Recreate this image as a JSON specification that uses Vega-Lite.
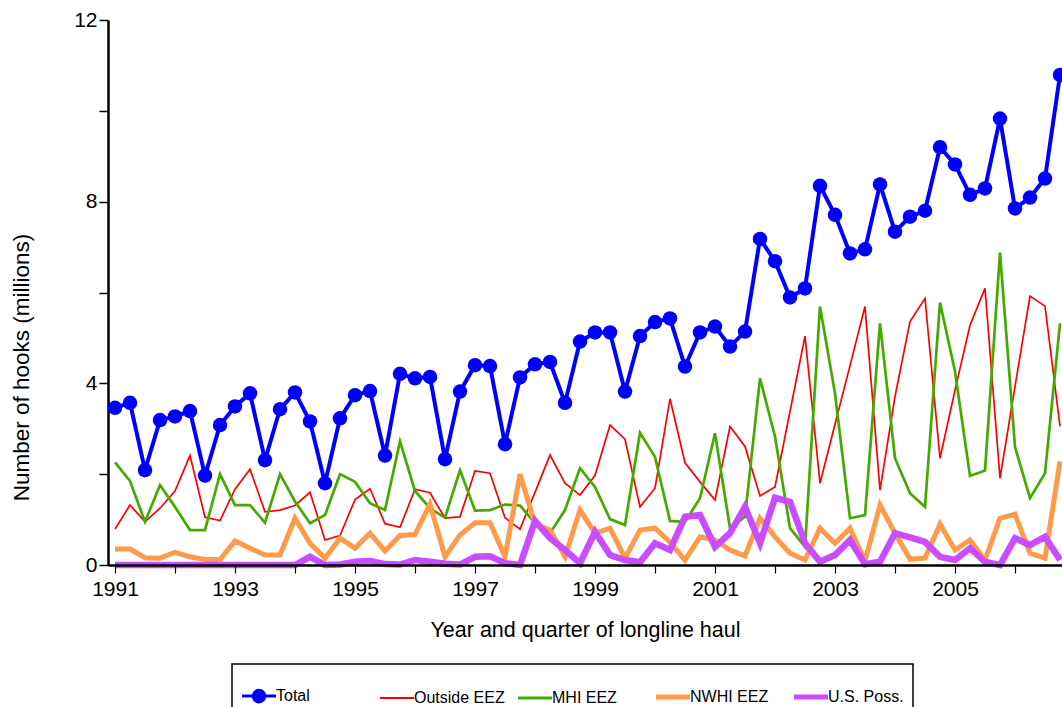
{
  "$schema": "https://vega.github.io/schema/vega-lite/v6.json",
  "width": 954,
  "height": 545,
  "autosize": "none",
  "padding": {"left": 108, "top": 20, "right": 0, "bottom": 142},
  "background": "white",
  "config": {
    "font": "Liberation Sans",
    "view": {"stroke": null},
    "axis": {"grid": false, "domainColor": "black", "tickColor": "black", "labelColor": "black", "titleColor": "black", "titleFontWeight": "normal", "labelFont": "Liberation Sans", "titleFont": "Liberation Sans"}
  },
  "datasets": {
    "total": [
      {"t":1991,"v":3.46},{"t":1991.25,"v":3.57},{"t":1991.5,"v":2.09},{"t":1991.75,"v":3.19},
      {"t":1992,"v":3.27},{"t":1992.25,"v":3.39},{"t":1992.5,"v":1.97},{"t":1992.75,"v":3.08},
      {"t":1993,"v":3.49},{"t":1993.25,"v":3.78},{"t":1993.5,"v":2.31},{"t":1993.75,"v":3.43},
      {"t":1994,"v":3.80},{"t":1994.25,"v":3.16},{"t":1994.5,"v":1.80},{"t":1994.75,"v":3.23},
      {"t":1995,"v":3.74},{"t":1995.25,"v":3.83},{"t":1995.5,"v":2.41},{"t":1995.75,"v":4.21},
      {"t":1996,"v":4.11},{"t":1996.25,"v":4.14},{"t":1996.5,"v":2.33},{"t":1996.75,"v":3.82},
      {"t":1997,"v":4.40},{"t":1997.25,"v":4.38},{"t":1997.5,"v":2.66},{"t":1997.75,"v":4.13},
      {"t":1998,"v":4.42},{"t":1998.25,"v":4.47},{"t":1998.5,"v":3.57},{"t":1998.75,"v":4.92},
      {"t":1999,"v":5.12},{"t":1999.25,"v":5.12},{"t":1999.5,"v":3.82},{"t":1999.75,"v":5.04},
      {"t":2000,"v":5.35},{"t":2000.25,"v":5.43},{"t":2000.5,"v":4.37},{"t":2000.75,"v":5.12},
      {"t":2001,"v":5.25},{"t":2001.25,"v":4.81},{"t":2001.5,"v":5.14},{"t":2001.75,"v":7.18},
      {"t":2002,"v":6.69},{"t":2002.25,"v":5.89},{"t":2002.5,"v":6.09},{"t":2002.75,"v":8.35},
      {"t":2003,"v":7.71},{"t":2003.25,"v":6.86},{"t":2003.5,"v":6.95},{"t":2003.75,"v":8.38},
      {"t":2004,"v":7.34},{"t":2004.25,"v":7.67},{"t":2004.5,"v":7.80},{"t":2004.75,"v":9.20},
      {"t":2005,"v":8.82},{"t":2005.25,"v":8.15},{"t":2005.5,"v":8.29},{"t":2005.75,"v":9.83},
      {"t":2006,"v":7.85},{"t":2006.25,"v":8.09},{"t":2006.5,"v":8.51},{"t":2006.75,"v":10.79}
    ],
    "outside": [
      {"t":1991,"v":0.79},{"t":1991.25,"v":1.32},{"t":1991.5,"v":0.95},{"t":1991.75,"v":1.25},
      {"t":1992,"v":1.63},{"t":1992.25,"v":2.41},{"t":1992.5,"v":1.05},{"t":1992.75,"v":0.98},
      {"t":1993,"v":1.67},{"t":1993.25,"v":2.11},{"t":1993.5,"v":1.17},{"t":1993.75,"v":1.21},
      {"t":1994,"v":1.31},{"t":1994.25,"v":1.60},{"t":1994.5,"v":0.55},{"t":1994.75,"v":0.65},
      {"t":1995,"v":1.44},{"t":1995.25,"v":1.68},{"t":1995.5,"v":0.91},{"t":1995.75,"v":0.83},
      {"t":1996,"v":1.67},{"t":1996.25,"v":1.59},{"t":1996.5,"v":1.03},{"t":1996.75,"v":1.06},
      {"t":1997,"v":2.07},{"t":1997.25,"v":2.02},{"t":1997.5,"v":1.04},{"t":1997.75,"v":0.79},
      {"t":1998,"v":1.60},{"t":1998.25,"v":2.42},{"t":1998.5,"v":1.80},{"t":1998.75,"v":1.54},
      {"t":1999,"v":1.97},{"t":1999.25,"v":3.08},{"t":1999.5,"v":2.77},{"t":1999.75,"v":1.28},
      {"t":2000,"v":1.69},{"t":2000.25,"v":3.66},{"t":2000.5,"v":2.25},{"t":2000.75,"v":1.83},
      {"t":2001,"v":1.43},{"t":2001.25,"v":3.05},{"t":2001.5,"v":2.61},{"t":2001.75,"v":1.52},
      {"t":2002,"v":1.72},{"t":2002.25,"v":3.38},{"t":2002.5,"v":5.04},{"t":2002.75,"v":1.80},
      {"t":2003,"v":3.10},{"t":2003.25,"v":4.39},{"t":2003.5,"v":5.69},{"t":2003.75,"v":1.65},
      {"t":2004,"v":3.71},{"t":2004.25,"v":5.36},{"t":2004.5,"v":5.87},{"t":2004.75,"v":2.35},
      {"t":2005,"v":3.85},{"t":2005.25,"v":5.28},{"t":2005.5,"v":6.09},{"t":2005.75,"v":1.91},
      {"t":2006,"v":3.93},{"t":2006.25,"v":5.92},{"t":2006.5,"v":5.70},{"t":2006.75,"v":3.05}
    ],
    "mhi": [
      {"t":1991,"v":2.26},{"t":1991.25,"v":1.85},{"t":1991.5,"v":0.95},{"t":1991.75,"v":1.76},
      {"t":1992,"v":1.28},{"t":1992.25,"v":0.77},{"t":1992.5,"v":0.77},{"t":1992.75,"v":2.00},
      {"t":1993,"v":1.32},{"t":1993.25,"v":1.32},{"t":1993.5,"v":0.93},{"t":1993.75,"v":2.00},
      {"t":1994,"v":1.40},{"t":1994.25,"v":0.92},{"t":1994.5,"v":1.10},{"t":1994.75,"v":2.00},
      {"t":1995,"v":1.83},{"t":1995.25,"v":1.36},{"t":1995.5,"v":1.21},{"t":1995.75,"v":2.72},
      {"t":1996,"v":1.63},{"t":1996.25,"v":1.25},{"t":1996.5,"v":1.04},{"t":1996.75,"v":2.09},
      {"t":1997,"v":1.20},{"t":1997.25,"v":1.21},{"t":1997.5,"v":1.33},{"t":1997.75,"v":1.31},
      {"t":1998,"v":0.92},{"t":1998.25,"v":0.70},{"t":1998.5,"v":1.21},{"t":1998.75,"v":2.13},
      {"t":1999,"v":1.72},{"t":1999.25,"v":1.01},{"t":1999.5,"v":0.88},{"t":1999.75,"v":2.91},
      {"t":2000,"v":2.38},{"t":2000.25,"v":0.97},{"t":2000.5,"v":0.95},{"t":2000.75,"v":1.47},
      {"t":2001,"v":2.90},{"t":2001.25,"v":0.81},{"t":2001.5,"v":1.06},{"t":2001.75,"v":4.11},
      {"t":2002,"v":2.83},{"t":2002.25,"v":0.81},{"t":2002.5,"v":0.40},{"t":2002.75,"v":5.69},
      {"t":2003,"v":3.78},{"t":2003.25,"v":1.03},{"t":2003.5,"v":1.10},{"t":2003.75,"v":5.32},
      {"t":2004,"v":2.35},{"t":2004.25,"v":1.58},{"t":2004.5,"v":1.28},{"t":2004.75,"v":5.78},
      {"t":2005,"v":4.26},{"t":2005.25,"v":1.96},{"t":2005.5,"v":2.08},{"t":2005.75,"v":6.88},
      {"t":2006,"v":2.60},{"t":2006.25,"v":1.47},{"t":2006.5,"v":2.02},{"t":2006.75,"v":5.32}
    ],
    "nwhi": [
      {"t":1991,"v":0.35},{"t":1991.25,"v":0.35},{"t":1991.5,"v":0.16},{"t":1991.75,"v":0.15},
      {"t":1992,"v":0.28},{"t":1992.25,"v":0.18},{"t":1992.5,"v":0.12},{"t":1992.75,"v":0.12},
      {"t":1993,"v":0.53},{"t":1993.25,"v":0.37},{"t":1993.5,"v":0.22},{"t":1993.75,"v":0.22},
      {"t":1994,"v":1.03},{"t":1994.25,"v":0.48},{"t":1994.5,"v":0.15},{"t":1994.75,"v":0.59},
      {"t":1995,"v":0.37},{"t":1995.25,"v":0.70},{"t":1995.5,"v":0.31},{"t":1995.75,"v":0.65},
      {"t":1996,"v":0.67},{"t":1996.25,"v":1.34},{"t":1996.5,"v":0.18},{"t":1996.75,"v":0.66},
      {"t":1997,"v":0.93},{"t":1997.25,"v":0.93},{"t":1997.5,"v":0.18},{"t":1997.75,"v":2.00},
      {"t":1998,"v":0.90},{"t":1998.25,"v":0.77},{"t":1998.5,"v":0.18},{"t":1998.75,"v":1.21},
      {"t":1999,"v":0.70},{"t":1999.25,"v":0.81},{"t":1999.5,"v":0.15},{"t":1999.75,"v":0.77},
      {"t":2000,"v":0.81},{"t":2000.25,"v":0.50},{"t":2000.5,"v":0.11},{"t":2000.75,"v":0.62},
      {"t":2001,"v":0.55},{"t":2001.25,"v":0.33},{"t":2001.5,"v":0.20},{"t":2001.75,"v":1.03},
      {"t":2002,"v":0.62},{"t":2002.25,"v":0.26},{"t":2002.5,"v":0.11},{"t":2002.75,"v":0.81},
      {"t":2003,"v":0.48},{"t":2003.25,"v":0.81},{"t":2003.5,"v":0.09},{"t":2003.75,"v":1.32},
      {"t":2004,"v":0.70},{"t":2004.25,"v":0.13},{"t":2004.5,"v":0.15},{"t":2004.75,"v":0.90},
      {"t":2005,"v":0.33},{"t":2005.25,"v":0.55},{"t":2005.5,"v":0.11},{"t":2005.75,"v":1.03},
      {"t":2006,"v":1.12},{"t":2006.25,"v":0.26},{"t":2006.5,"v":0.15},{"t":2006.75,"v":2.28}
    ],
    "usposs": [
      {"t":1991,"v":0.0},{"t":1991.25,"v":0.0},{"t":1991.5,"v":0.0},{"t":1991.75,"v":0.0},
      {"t":1992,"v":0.0},{"t":1992.25,"v":0.0},{"t":1992.5,"v":0.0},{"t":1992.75,"v":0.0},
      {"t":1993,"v":0.0},{"t":1993.25,"v":0.0},{"t":1993.5,"v":0.0},{"t":1993.75,"v":0.0},
      {"t":1994,"v":0.0},{"t":1994.25,"v":0.18},{"t":1994.5,"v":0.0},{"t":1994.75,"v":0.01},
      {"t":1995,"v":0.07},{"t":1995.25,"v":0.09},{"t":1995.5,"v":0.02},{"t":1995.75,"v":0.01},
      {"t":1996,"v":0.11},{"t":1996.25,"v":0.07},{"t":1996.5,"v":0.03},{"t":1996.75,"v":0.01},
      {"t":1997,"v":0.18},{"t":1997.25,"v":0.19},{"t":1997.5,"v":0.04},{"t":1997.75,"v":0.0},
      {"t":1998,"v":0.97},{"t":1998.25,"v":0.59},{"t":1998.5,"v":0.33},{"t":1998.75,"v":0.04},
      {"t":1999,"v":0.73},{"t":1999.25,"v":0.22},{"t":1999.5,"v":0.11},{"t":1999.75,"v":0.06},
      {"t":2000,"v":0.48},{"t":2000.25,"v":0.33},{"t":2000.5,"v":1.06},{"t":2000.75,"v":1.10},
      {"t":2001,"v":0.40},{"t":2001.25,"v":0.70},{"t":2001.5,"v":1.28},{"t":2001.75,"v":0.48},
      {"t":2002,"v":1.48},{"t":2002.25,"v":1.39},{"t":2002.5,"v":0.48},{"t":2002.75,"v":0.07},
      {"t":2003,"v":0.22},{"t":2003.25,"v":0.55},{"t":2003.5,"v":0.02},{"t":2003.75,"v":0.07},
      {"t":2004,"v":0.70},{"t":2004.25,"v":0.61},{"t":2004.5,"v":0.51},{"t":2004.75,"v":0.18},
      {"t":2005,"v":0.11},{"t":2005.25,"v":0.37},{"t":2005.5,"v":0.07},{"t":2005.75,"v":0.0},
      {"t":2006,"v":0.59},{"t":2006.25,"v":0.44},{"t":2006.5,"v":0.62},{"t":2006.75,"v":0.11}
    ]
  },
  "layer": [
    {
      "data": {"name": "outside"},
      "mark": {"type": "line", "strokeWidth": 1.7, "clip": false},
      "encoding": {
        "x": {"field": "t", "type": "quantitative", "scale": {"domain": [1990.8833, 2006.7833], "nice": false, "zero": false},
          "axis": {"orient": "bottom", "zindex": 1,
            "values": [1991,1991.25,1991.5,1991.75,1992,1992.25,1992.5,1992.75,1993,1993.25,1993.5,1993.75,1994,1994.25,1994.5,1994.75,1995,1995.25,1995.5,1995.75,1996,1996.25,1996.5,1996.75,1997,1997.25,1997.5,1997.75,1998,1998.25,1998.5,1998.75,1999,1999.25,1999.5,1999.75,2000,2000.25,2000.5,2000.75,2001,2001.25,2001.5,2001.75,2002,2002.25,2002.5,2002.75,2003,2003.25,2003.5,2003.75,2004,2004.25,2004.5,2004.75,2005,2005.25,2005.5,2005.75,2006,2006.25,2006.5,2006.75],
            "format": "d", "labelExpr": "datum.value % 2 === 1 ? datum.label : ''",
            "tickSize": 8, "tickWidth": 1.2, "domainWidth": 2.5, "labelFontSize": 21, "labelPadding": 5, "labelFlush": false, "labelOverlap": false,
            "encode": {"ticks": {"update": {"y2": {"signal": "datum.value % 2 === 1 ? 8 : -7"}}}},
            "title": "Year and quarter of longline haul", "titleFontSize": 21.5, "titleY": 71, "titleBaseline": "alphabetic"}},
        "y": {"field": "v", "type": "quantitative", "scale": {"domain": [0, 12], "nice": false, "zero": true},
          "axis": {"values": [0, 2, 4, 6, 8, 10, 12], "labelExpr": "datum.value % 4 === 0 ? datum.label : ''", "tickSize": 9, "tickWidth": 1.5, "domainWidth": 2.5, "labelFontSize": 21, "labelPadding": 2, "title": "Number of hooks (millions)", "titleFontSize": 22.5, "titleX": -80, "titleY": 347, "titleBaseline": "alphabetic", "titleAngle": 270}},
        "color": {"datum": "Outside EEZ", "type": "nominal",
          "scale": {"domain": ["Total", "Outside EEZ", "MHI EEZ", "NWHI EEZ", "U.S. Poss."], "range": ["#0000ff", "#ff0000", "#44aa00", "#ff9a4a", "#c94cff"]},
          "legend": {
            "title": " ", "titleFontSize": 10, "titlePadding": 5,
            "orient": "none", "legendX": 124, "legendY": 644,
            "direction": "horizontal", "columns": 5, "gridAlign": "all", "columnPadding": 3,
            "symbolSize": 1156, "symbolType": "stroke", "symbolOffset": 10, "labelFontSize": 16, "labelFont": "Liberation Sans", "labelColor": "black", "labelOffset": 9, "labelLimit": 200,
            "strokeColor": "black", "fillColor": "white", "padding": 9,
            "encode": {
              "legend": {"update": {"strokeWidth": {"value": 1.5}}},
              "symbols": {"update": {
                "shape": {"signal": "datum.value === 'Total' ? 'M-1,0H1M-0.34,0A0.34,0.34,0,1,0,0.34,0A0.34,0.34,0,1,0,-0.34,0Z' : 'stroke'"},
                "strokeWidth": {"signal": "datum.value === 'Total' ? 3 : datum.value === 'Outside EEZ' ? 1.8 : datum.value === 'MHI EEZ' ? 3 : 5"},
                "fill": {"signal": "datum.value === 'Total' ? '#0000ff' : 'transparent'"},
                "opacity": {"value": 1}
              }}
            }
          }}
      }
    },
    {
      "data": {"name": "mhi"},
      "mark": {"type": "line", "strokeWidth": 2.7, "clip": false},
      "encoding": {
        "x": {"field": "t", "type": "quantitative", "scale": {"domain": [1990.8833, 2006.7833], "nice": false, "zero": false}},
        "y": {"field": "v", "type": "quantitative", "scale": {"domain": [0, 12], "nice": false}},
        "color": {"datum": "MHI EEZ", "type": "nominal"}
      }
    },
    {
      "data": {"name": "nwhi"},
      "mark": {"type": "line", "strokeWidth": 5, "clip": false},
      "encoding": {
        "x": {"field": "t", "type": "quantitative", "scale": {"domain": [1990.8833, 2006.7833], "nice": false, "zero": false}},
        "y": {"field": "v", "type": "quantitative", "scale": {"domain": [0, 12], "nice": false}},
        "color": {"datum": "NWHI EEZ", "type": "nominal"}
      }
    },
    {
      "data": {"name": "usposs"},
      "mark": {"type": "line", "strokeWidth": 6.5, "clip": false},
      "encoding": {
        "x": {"field": "t", "type": "quantitative", "scale": {"domain": [1990.8833, 2006.7833], "nice": false, "zero": false}},
        "y": {"field": "v", "type": "quantitative", "scale": {"domain": [0, 12], "nice": false}},
        "color": {"datum": "U.S. Poss.", "type": "nominal"}
      }
    },
    {
      "data": {"name": "total"},
      "mark": {"type": "line", "strokeWidth": 4, "clip": false},
      "encoding": {
        "x": {"field": "t", "type": "quantitative", "scale": {"domain": [1990.8833, 2006.7833], "nice": false, "zero": false}},
        "y": {"field": "v", "type": "quantitative", "scale": {"domain": [0, 12], "nice": false}},
        "color": {"datum": "Total", "type": "nominal"}
      }
    },
    {
      "data": {"name": "total"},
      "mark": {"type": "point", "filled": true, "size": 210, "opacity": 1, "clip": false},
      "encoding": {
        "x": {"field": "t", "type": "quantitative", "scale": {"domain": [1990.8833, 2006.7833], "nice": false, "zero": false}},
        "y": {"field": "v", "type": "quantitative", "scale": {"domain": [0, 12], "nice": false}},
        "color": {"datum": "Total", "type": "nominal"}
      }
    }
  ]
}
